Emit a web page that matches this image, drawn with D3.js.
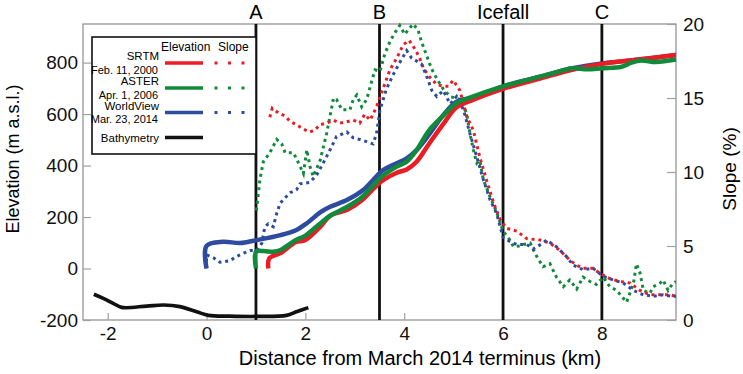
<!DOCTYPE html>
<html>
<head>
<meta charset="utf-8">
<script src="https://cdn.jsdelivr.net/npm/d3@7/dist/d3.min.js"></script>
<style>
  body { margin: 0; background: #fff; }
  svg { display: block; font-family: "Liberation Sans", Arial, sans-serif; }
</style>
</head>
<body>
<div id="chart"></div>
<script>
// elevation profiles [km, m a.s.l.]
const srtmElev = [[1.25,0],[1.27,40],[1.5,60],[1.8,102],[2.0,111],[2.3,162],[2.5,205],[2.85,228],[3.15,266],[3.35,305],[3.58,344],[3.85,372],[4.05,385],[4.25,415],[4.5,484],[4.8,564],[5.05,625],[5.4,656],[6.0,698],[6.75,738],[7.4,772],[8.0,795],[8.75,812],[9.5,830]];
const asterElev = [[1.0,0],[1.0,65],[1.15,68],[1.35,65],[1.5,72],[1.8,110],[2.0,128],[2.3,175],[2.5,205],[2.85,240],[3.15,278],[3.35,318],[3.58,362],[3.85,396],[4.05,415],[4.25,460],[4.5,536],[4.8,596],[5.05,642],[5.3,662],[6.0,708],[6.5,733],[7.0,758],[7.4,778],[7.7,774],[8.0,778],[8.4,784],[8.6,800],[8.8,808],[9.1,802],[9.5,812]];
const wvElev = [[0,0],[0,88],[0.33,104],[0.68,99],[1.0,110],[1.5,130],[1.82,150],[2.03,176],[2.3,218],[2.5,240],[2.84,266],[3.17,305],[3.37,344],[3.58,383],[3.85,409],[4.05,428],[4.25,460],[4.52,525],[4.79,596],[5.06,648],[5.4,665],[6.0,708],[6.75,745],[7.4,778],[8.0,797],[8.75,812],[9.5,830]];
const bathymetry = [[-2.28,-100],[-2.09,-116],[-1.89,-135],[-1.72,-151],[-1.21,-146],[-0.87,-142],[-0.54,-148],[-0.2,-168],[0.04,-182],[0.47,-185],[1.01,-186],[1.62,-182],[1.82,-168],[2.06,-152]];

// slope profiles [km, %]
const srtmSlope = [[1.28,13.7],[1.33,14.3],[1.45,14.0],[1.58,13.8],[1.7,13.4],[1.82,13.2],[1.96,12.9],[2.08,12.7],[2.18,12.8],[2.3,13.2],[2.43,13.3],[2.57,13.5],[2.7,13.3],[2.84,13.4],[2.97,13.5],[3.1,13.3],[3.2,13.9],[3.31,13.5],[3.44,14.4],[3.58,15.7],[3.71,16.9],[3.85,17.7],[3.98,18.6],[4.1,18.9],[4.2,18.4],[4.3,17.8],[4.39,17.0],[4.52,16.4],[4.66,15.9],[4.79,15.8],[4.9,15.8],[4.99,16.2],[5.13,15.5],[5.26,13.8],[5.4,12.8],[5.53,11.0],[5.67,9.4],[5.8,8.0],[5.94,6.8],[6.07,6.2],[6.28,6.0],[6.48,5.5],[6.75,5.4],[6.95,5.2],[7.15,4.7],[7.35,4.05],[7.49,3.7],[7.62,3.5],[7.82,3.5],[7.96,3.15],[8.16,2.8],[8.37,2.6],[8.57,2.5],[8.77,2.0],[8.97,1.7],[9.18,1.7],[9.38,1.7],[9.5,1.6]];
const asterSlope = [[1.01,7.4],[1.08,9.5],[1.15,10.7],[1.28,11.3],[1.42,12.2],[1.52,11.9],[1.59,11.3],[1.76,11.3],[1.89,10.4],[1.96,9.9],[2.03,11.5],[2.09,10.4],[2.16,9.7],[2.3,10.8],[2.43,12.6],[2.57,15.0],[2.63,14.9],[2.74,14.2],[2.9,14.2],[2.97,14.9],[3.04,15.2],[3.14,14.4],[3.24,14.9],[3.34,16.1],[3.41,16.9],[3.51,16.8],[3.61,18.0],[3.71,18.8],[3.81,19.4],[3.91,19.9],[4.01,19.3],[4.08,19.6],[4.18,20.0],[4.28,19.6],[4.35,18.8],[4.45,17.9],[4.55,17.0],[4.66,16.3],[4.79,15.6],[4.93,15.1],[5.13,14.9],[5.26,14.0],[5.33,12.6],[5.4,11.5],[5.47,10.6],[5.53,10.8],[5.6,9.5],[5.74,8.3],[5.87,7.3],[6.0,6.0],[6.14,5.4],[6.21,4.95],[6.34,5.0],[6.41,5.1],[6.55,5.2],[6.68,4.3],[6.81,3.6],[6.95,3.8],[7.08,2.9],[7.22,2.25],[7.35,2.7],[7.49,2.1],[7.62,2.9],[7.76,2.6],[7.89,2.4],[8.03,2.9],[8.16,2.25],[8.3,2.0],[8.5,1.2],[8.64,2.5],[8.7,3.8],[8.77,3.2],[8.84,2.0],[8.97,1.8],[9.04,2.25],[9.18,2.5],[9.24,2.7],[9.34,2.0],[9.44,2.5],[9.5,2.6]];
const wvSlope = [[0.0,3.5],[0.0,4.4],[0.14,4.2],[0.27,3.9],[0.47,4.0],[0.61,4.3],[0.74,4.5],[0.88,4.7],[1.01,4.7],[1.12,5.2],[1.18,6.3],[1.25,6.5],[1.35,6.3],[1.42,7.2],[1.49,7.9],[1.69,8.6],[1.82,8.8],[1.89,9.2],[2.09,9.3],[2.23,9.8],[2.36,10.6],[2.5,11.5],[2.63,12.4],[2.84,12.7],[2.97,12.3],[3.1,12.2],[3.24,12.05],[3.37,11.9],[3.44,12.6],[3.51,14.2],[3.64,15.6],[3.78,16.6],[3.91,17.4],[4.05,18.2],[4.15,17.7],[4.25,17.5],[4.35,17.3],[4.45,16.5],[4.56,15.5],[4.66,15.1],[4.79,15.5],[4.93,14.6],[5.06,15.1],[5.2,14.2],[5.33,12.6],[5.47,11.0],[5.6,9.5],[5.74,8.1],[5.87,7.2],[6.0,5.6],[6.14,5.3],[6.28,5.1],[6.48,5.1],[6.61,4.8],[6.81,5.2],[6.88,5.4],[7.08,4.95],[7.28,4.3],[7.42,3.7],[7.62,3.4],[7.82,3.5],[8.03,2.95],[8.23,2.7],[8.43,2.5],[8.64,2.0],[8.84,1.7],[9.04,1.6],[9.24,1.7],[9.41,1.6],[9.5,1.6]];

// reference locations along the profile
const markerKm = [1, 3.5, 6, 8];
const markerLabels = ["A", "B", "Icefall", "C"];

// ticks
const distTicks = [-2, 0, 2, 4, 6, 8];
const elevTicks = [-200, 0, 200, 400, 600, 800];
const slopeTicks = [0, 5, 10, 15, 20];

// legend
const legendNames = ["SRTM", "ASTER", "WorldView", "Bathymetry"];
const legendDates = ["Feb. 11, 2000", "Apr. 1, 2006", "Mar. 23, 2014", ""];

const colors = { srtm: "#ec1c24", aster: "#128a3c", wv: "#2d4b9f", bath: "#111" };

const W = 743, H = 374;
const margin = { top: 24, right: 67, bottom: 54, left: 83 };
const innerW = W - margin.left - margin.right;
const innerH = H - margin.top - margin.bottom;

const svg = d3.select("#chart").append("svg")
    .attr("width", W)
    .attr("height", H);

const g = svg.append("g")
    .attr("transform", `translate(${margin.left},${margin.top})`);

const x = d3.scaleLinear().domain([-2.5, 9.5]).range([0, innerW]);
const yElev = d3.scaleLinear().domain([-200, 950]).range([innerH, 0]);
const ySlope = d3.scaleLinear().domain([0, 20]).range([innerH, 0]);

svg.append("defs").append("clipPath").attr("id", "plotclip")
    .append("rect").attr("x", 0).attr("y", -3).attr("width", innerW).attr("height", innerH + 3);

// frame
g.append("rect")
    .attr("width", innerW)
    .attr("height", innerH)
    .attr("fill", "none")
    .attr("stroke", "#8c8c8c")
    .attr("stroke-width", 1.2);

const plain = d => String(d);   // keep hyphen-minus like the original

const styleAxis = sel => {
    sel.select(".domain").remove();
    sel.selectAll(".tick line").attr("stroke", "#a0a0a0").attr("stroke-width", 1.2);
    sel.selectAll(".tick text").attr("fill", "#111").style("font-size", "19px")
        .style("font-family", "\"Liberation Sans\", Arial, sans-serif");
};

g.append("g")
    .attr("transform", `translate(0,${innerH})`)
    .call(d3.axisBottom(x).tickValues(distTicks).tickSize(-7).tickPadding(7).tickFormat(plain))
    .call(styleAxis);

g.append("g")
    .call(d3.axisLeft(yElev).tickValues(elevTicks).tickSize(-8).tickPadding(5).tickFormat(plain))
    .call(styleAxis);

g.append("g")
    .attr("transform", `translate(${innerW},0)`)
    .call(d3.axisRight(ySlope).tickValues(slopeTicks).tickSize(-9).tickPadding(7).tickFormat(plain))
    .call(styleAxis);

// axis titles
svg.append("text")
    .attr("x", 420).attr("y", 365)
    .attr("text-anchor", "middle")
    .style("font-size", "20px")
    .text("Distance from March 2014 terminus (km)");

svg.append("text")
    .attr("transform", "translate(19,159) rotate(-90)")
    .attr("text-anchor", "middle")
    .style("font-size", "18px")
    .text("Elevation (m a.s.l.)");

svg.append("text")
    .attr("transform", "translate(736,169) rotate(-90)")
    .attr("text-anchor", "middle")
    .style("font-size", "19px")
    .text("Slope (%)");

// vertical reference lines and their labels
g.selectAll(".marker")
    .data(markerKm)
    .join("line")
    .attr("class", "marker")
    .attr("x1", d => x(d)).attr("x2", d => x(d))
    .attr("y1", 0).attr("y2", innerH)
    .attr("stroke", "#111")
    .attr("stroke-width", 2.8);

g.selectAll(".markerLabel")
    .data(markerKm)
    .join("text")
    .attr("class", "markerLabel")
    .attr("x", d => x(d))
    .attr("y", -5)
    .attr("text-anchor", "middle")
    .style("font-size", "20px")
    .text((d, i) => markerLabels[i]);

const plot = g.append("g").attr("clip-path", "url(#plotclip)");

const slopeLine = d3.line().x(d => x(d[0])).y(d => ySlope(d[1]));
const elevLine = d3.line().x(d => x(d[0])).y(d => yElev(d[1]))
    .curve(d3.curveCatmullRom.alpha(0.5));

const slopes = [[asterSlope, colors.aster], [srtmSlope, colors.srtm], [wvSlope, colors.wv]];
plot.selectAll(".slope")
    .data(slopes)
    .join("path")
    .attr("class", "slope")
    .attr("d", d => slopeLine(d[0]))
    .attr("fill", "none")
    .attr("stroke", d => d[1])
    .attr("stroke-width", 3)
    .attr("stroke-dasharray", "3,3.8");

const elevs = [[wvElev, colors.wv], [srtmElev, colors.srtm], [asterElev, colors.aster], [bathymetry, colors.bath]];
plot.selectAll(".elev")
    .data(elevs)
    .join("path")
    .attr("class", "elev")
    .attr("d", d => elevLine(d[0]))
    .attr("fill", "none")
    .attr("stroke", d => d[1])
    .attr("stroke-width", (d, i) => i === 3 ? 3.6 : 4.5)
    .attr("stroke-linejoin", "round");

// legend
const leg = svg.append("g").attr("transform", "translate(92,37)");
leg.append("rect")
    .attr("width", 164).attr("height", 117)
    .attr("fill", "#fff")
    .attr("stroke", "#111")
    .attr("stroke-width", 1.6);

leg.append("text").attr("x", 69).attr("y", 14).style("font-size", "12px").text("Elevation");
leg.append("text").attr("x", 126).attr("y", 14).style("font-size", "12px").text("Slope");

const legColors = [colors.srtm, colors.aster, colors.wv, colors.bath];
const legRowY = [26, 51, 75.5, 100.5];
const legRows = leg.selectAll(".legRow")
    .data(legendNames)
    .join("g")
    .attr("class", "legRow")
    .attr("transform", (d, i) => `translate(0,${legRowY[i]})`);

legRows.append("text")
    .attr("x", 67).attr("y", (d, i) => i === 3 ? 4 : -3)
    .attr("text-anchor", "end")
    .style("font-size", "11.5px")
    .text(d => d);

legRows.append("text")
    .attr("x", 66).attr("y", (d, i) => i === 2 ? 10 : 10.5)
    .attr("text-anchor", "end")
    .style("font-size", "11px")
    .text((d, i) => legendDates[i]);

legRows.append("line")
    .attr("x1", 73).attr("x2", 111)
    .attr("stroke", (d, i) => legColors[i])
    .attr("stroke-width", 3.5);

legRows.filter((d, i) => i < 3).append("line")
    .attr("x1", 122.5).attr("x2", 153)
    .attr("stroke", (d, i) => legColors[i])
    .attr("stroke-width", 3)
    .attr("stroke-dasharray", "3,10.5");
</script>
</body>
</html>
